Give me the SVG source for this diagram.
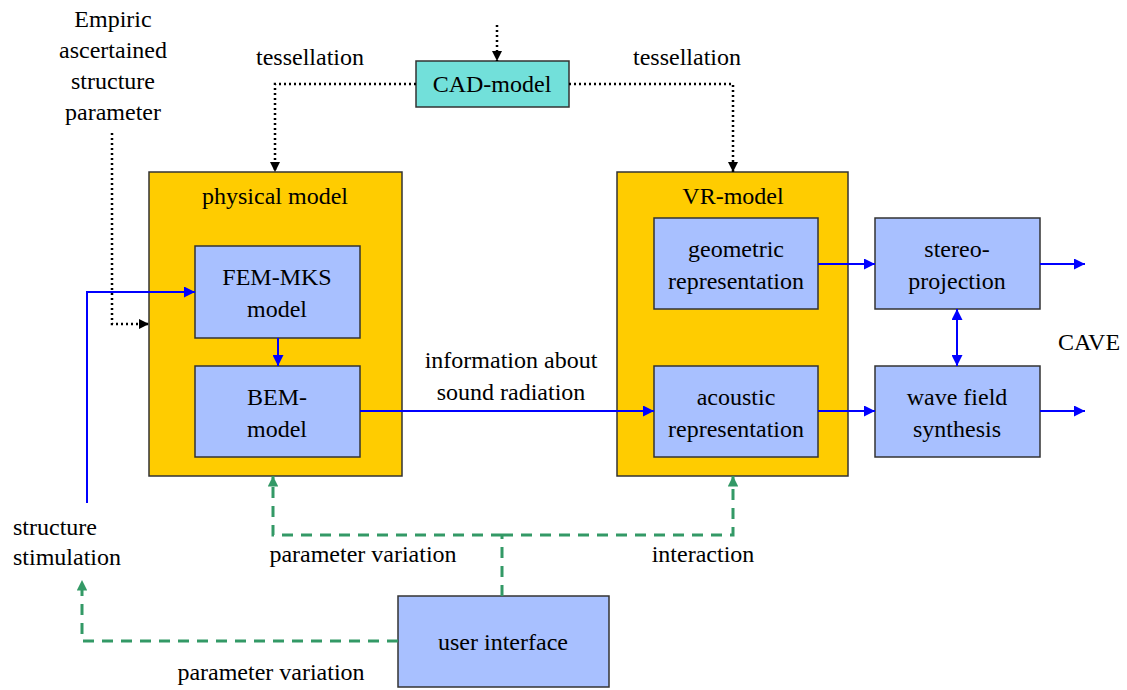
<svg xmlns="http://www.w3.org/2000/svg" width="1127" height="690" viewBox="0 0 1127 690" font-family="'Liberation Serif', 'DejaVu Serif', 'Times New Roman', serif">
<style>
text{font-family:"Liberation Serif","DejaVu Serif","Times New Roman",serif;font-size:24px;fill:#000;text-anchor:middle}
.l{text-anchor:start}
.box{fill:#A8C0FF;stroke:#333;stroke-width:1.5}
.outer{fill:#FFCC00;stroke:#333;stroke-width:1.5}
.cad{fill:#72E0DA;stroke:#333;stroke-width:1.5}
.dot{fill:none;stroke:#000;stroke-width:2.5;stroke-dasharray:2 3}
.blue{fill:none;stroke:#0000FF;stroke-width:2}
.green{fill:none;stroke:#339966;stroke-width:3;stroke-dasharray:11 8}
</style>
<defs>
<marker id="ak" viewBox="0 0 10 10" refX="10" refY="5" markerWidth="4" markerHeight="4" orient="auto"><path d="M0,0L10,5L0,10z" fill="#000"/></marker>
<marker id="ab" viewBox="0 0 10 10" refX="10" refY="5" markerWidth="5.5" markerHeight="5.5" orient="auto-start-reverse"><path d="M0,0L10,5L0,10z" fill="#0000FF"/></marker>
<marker id="ag" viewBox="0 0 10 10" refX="10" refY="5" markerWidth="3.5" markerHeight="3.5" orient="auto"><path d="M0,0L10,5L0,10z" fill="#339966"/></marker>
</defs>
<rect width="1127" height="690" fill="#fff"/>
<g id="physical-model"><rect class="outer" x="149" y="172" width="253" height="304"/><text x="275" y="204">physical model</text></g>
<g id="vr-model"><rect class="outer" x="617" y="172" width="231" height="304"/><text x="733" y="204">VR-model</text></g>
<g id="cad-model"><rect class="cad" x="416" y="61" width="153" height="46"/><text x="492" y="92">CAD-model</text></g>
<g id="fem"><rect class="box" x="195" y="246" width="165" height="92"/><text x="277" y="285">FEM-MKS</text><text x="277" y="317">model</text></g>
<g id="bem"><rect class="box" x="195" y="366" width="165" height="91"/><text x="277" y="405">BEM-</text><text x="277" y="437">model</text></g>
<g id="geometric"><rect class="box" x="654" y="218" width="164" height="91"/><text x="736" y="257">geometric</text><text x="736" y="289">representation</text></g>
<g id="acoustic"><rect class="box" x="654" y="366" width="164" height="91"/><text x="736" y="405">acoustic</text><text x="736" y="437">representation</text></g>
<g id="stereo"><rect class="box" x="875" y="218" width="165" height="91"/><text x="957" y="257">stereo-</text><text x="957" y="289">projection</text></g>
<g id="wave"><rect class="box" x="875" y="366" width="165" height="91"/><text x="957" y="405">wave field</text><text x="957" y="437">synthesis</text></g>
<g id="user-interface"><rect class="box" x="398" y="596" width="211" height="91"/><text x="503" y="650">user interface</text></g>
<g id="labels">
<text x="113" y="27">Empiric</text><text x="113" y="58">ascertained</text><text x="113" y="89">structure</text><text x="113" y="120">parameter</text>
<text x="310" y="65">tessellation</text><text x="687" y="65">tessellation</text>
<text x="511" y="368">information about</text><text x="511" y="400">sound radiation</text>
<text x="1089" y="350">CAVE</text>
<text class="l" x="13" y="535">structure</text><text class="l" x="13" y="565">stimulation</text>
<text x="363" y="562">parameter variation</text>
<text x="703" y="562">interaction</text>
<text x="271" y="680">parameter variation</text>
</g>
<g id="connectors">
<path class="dot" d="M497,25V61" marker-end="url(#ak)"/>
<path class="dot" d="M416,84H275V172" marker-end="url(#ak)"/>
<path class="dot" d="M569,84H733V172" marker-end="url(#ak)"/>
<path class="dot" d="M112,133V324H149" marker-end="url(#ak)"/>
<path class="blue" d="M87,503V292H195" marker-end="url(#ab)"/>
<path class="blue" d="M278,338V366" marker-end="url(#ab)"/>
<path class="blue" d="M360,411H654" marker-end="url(#ab)"/>
<path class="blue" d="M818,264H875" marker-end="url(#ab)"/>
<path class="blue" d="M818,411H875" marker-end="url(#ab)"/>
<path class="blue" d="M1040,264H1085" marker-end="url(#ab)"/>
<path class="blue" d="M1040,411H1085" marker-end="url(#ab)"/>
<path class="blue" d="M957,309V366" marker-start="url(#ab)" marker-end="url(#ab)"/>
<path class="green" d="M502,596V535"/>
<path class="green" d="M502,535H273V476" marker-end="url(#ag)"/>
<path class="green" d="M502,535H733V476" marker-end="url(#ag)"/>
<path class="green" d="M398,641H82V580" marker-end="url(#ag)"/>
</g>
</svg>
